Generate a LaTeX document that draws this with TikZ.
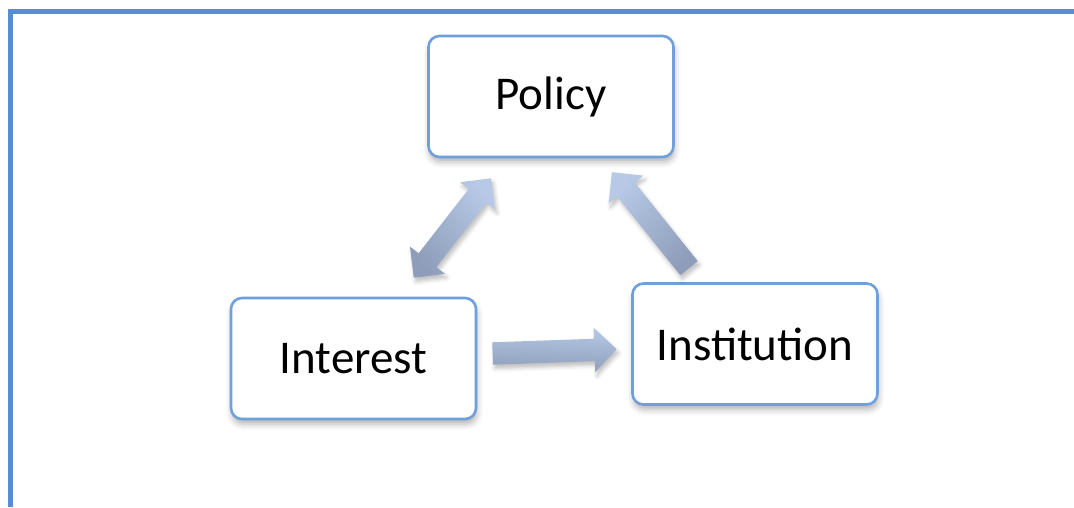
\documentclass[tikz,border=0pt]{standalone}
\usepackage{fontspec}
\setmainfont{Carlito}
\usetikzlibrary{shapes.arrows,shadows.blur,calc}
\definecolor{frameblue}{HTML}{558ED5}
\definecolor{boxblue}{HTML}{6FA0DC}
\definecolor{arrlight}{HTML}{B7C9E6}
\definecolor{arrdark}{HTML}{8D9DBA}
\tikzset{
  conceptbox/.style={draw=boxblue, line width=2.6pt, rounded corners=11pt, fill=white,
    minimum width=245pt, minimum height=121pt, inner sep=0pt,
    font=\fontsize{47}{50}\selectfont,
    blur shadow={shadow xshift=1pt, shadow yshift=-5pt, shadow blur radius=6pt, shadow opacity=30}},
  arrowbase/.style={inner xsep=0pt, inner ysep=11pt, text height=0pt, text depth=0pt,
    minimum width=44pt, top color=arrlight, bottom color=arrdark, draw=none,
    blur shadow={shadow xshift=2pt, shadow yshift=-4pt, shadow blur radius=4pt, shadow opacity=25}},
  blockarrow/.style={arrowbase, single arrow, minimum height=#1,
    single arrow head extend=11pt, single arrow head indent=0pt},
  dblarrow/.style={arrowbase, double arrow, minimum height=#1,
    double arrow head extend=11pt, double arrow head indent=0pt}
}
\begin{document}
\begin{tikzpicture}[x=1pt,y=-1pt]
\useasboundingbox (0,0) rectangle (1074,507);
% frame lines
\draw[frameblue, line width=5pt] (10.5,507) -- (10.5,11.5) -- (1074,11.5);
% boxes
\node[conceptbox] (policy) at (551,96.5) {Policy};
\node[conceptbox] (interest) at (353.5,358.5) {Interest};
\node[conceptbox] (institution) at (755,344) {Institution};
% block arrows
\node[dblarrow=126pt, rotate=52.1, shading angle=-52.1] (a1) at (452.5,228) {};
\node[blockarrow=123pt, rotate=128.7, shading angle=51.3] (a2) at (654,224.5) {};
\node[blockarrow=124pt, rotate=2, shading angle=-2] (a3) at (549,351.5) {};
\end{tikzpicture}
\end{document}
